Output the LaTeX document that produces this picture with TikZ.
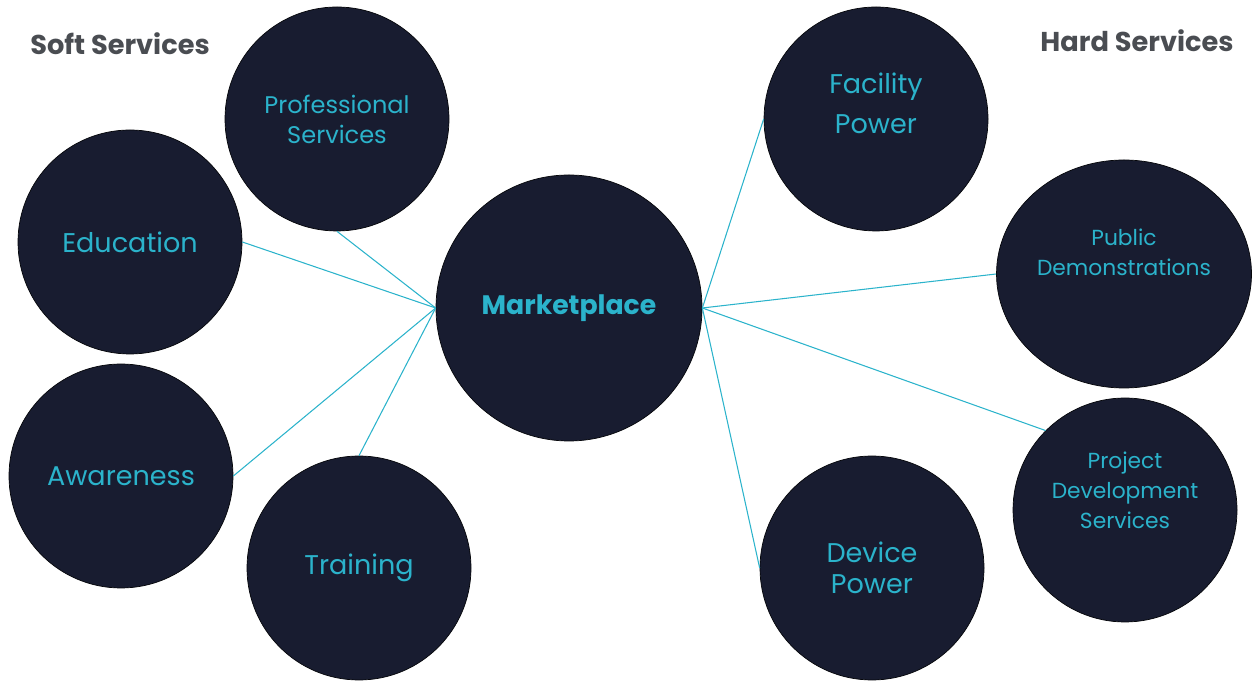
\documentclass[tikz,border=0pt]{standalone}
\usepackage{fontspec}
\setmainfont{Poppins}
\usetikzlibrary{shapes.geometric}

\definecolor{navy}{HTML}{181C30}
\definecolor{aqua}{HTML}{2BB3CB}
\definecolor{slate}{HTML}{4A4D52}

\begin{document}
\begin{tikzpicture}[
  bubble/.style={circle, draw=black!80!navy, fill=navy, thin,
                 minimum size=4.48cm, inner sep=0pt, align=center,
                 text=aqua, font=\fontsize{15.4}{19}\selectfont},
  hub/.style={bubble, minimum size=5.32cm,
              font=\fontsize{15.2}{18}\selectfont\bfseries},
  lbl/.style={text=aqua, align=center},
  head/.style={text=slate, font=\fontsize{15.5}{18}\selectfont\bfseries},
  spoke/.style={draw=aqua, line width=0.6pt}
]
  \useasboundingbox (0,0) rectangle (25.04,13.66);

  % group titles
  \node[head] (soft) at (2.40,12.78) {Soft Services};
  \node[head] (hard) at (22.74,12.84) {Hard Services};

  % centre
  \node[hub] (mkt) at (11.38,7.5) {Marketplace};

  % soft services (left)
  \node[bubble, font=\fontsize{13.7}{17}\selectfont] (prof) at (6.74,11.28)
    {Professional\\Services};
  \node[bubble] (edu) at (2.60,8.82) {Education};
  \node[bubble] (awa) at (2.42,4.14) {Awareness};
  \node[bubble] (trn) at (7.18,2.30) {Training};

  % hard services (right)
  \node[bubble, label={[lbl, yshift=0.32cm, font=\fontsize{15.4}{22.7}\selectfont]center:{Facility\\Power}}]
    (fac) at (17.52,11.28) {};
  \node[ellipse, draw=black!80!navy, fill=navy, thin, minimum width=5.1cm,
        minimum height=4.56cm, inner sep=0pt,
        label={[lbl, yshift=0.44cm, font=\fontsize{12.4}{17}\selectfont]center:{Public\\Demonstrations}}]
    (pub) at (22.48,8.18) {};
  \node[bubble, label={[lbl, yshift=0.40cm, font=\fontsize{12.4}{17}\selectfont]center:{Project\\Development\\Services}}]
    (proj) at (22.50,3.46) {};
  \node[bubble, font=\fontsize{15.4}{18}\selectfont] (dev) at (17.44,2.30)
    {Device\\Power};

  % spokes
  \draw[spoke] (mkt.west) -- (prof.south);
  \draw[spoke] (mkt.west) -- (edu.east);
  \draw[spoke] (mkt.west) -- (awa.east);
  \draw[spoke] (mkt.west) -- (trn.north);
  \draw[spoke] (mkt.east) -- (fac.west);
  \draw[spoke] (mkt.east) -- (pub.west);
  \draw[spoke] (mkt.east) -- (proj.135);
  \draw[spoke] (mkt.east) -- (dev.west);
\end{tikzpicture}
\end{document}
